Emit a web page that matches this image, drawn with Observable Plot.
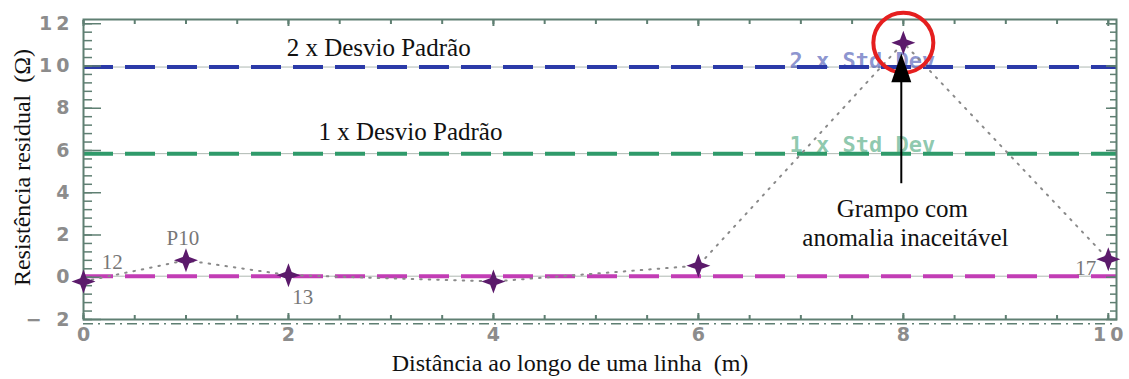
<!DOCTYPE html>
<html><head><meta charset="utf-8">
<script src="https://cdn.jsdelivr.net/npm/d3@7"></script>
<script src="https://cdn.jsdelivr.net/npm/@observablehq/plot@0.6"></script>
<style>
body{margin:0;background:#fff}
#chart svg [aria-label="y-axis tick label"] text,
#chart svg [aria-label="x-axis tick label"] text{letter-spacing:4px}
</style>
</head><body><div id="chart"></div>
<script>
// ---- data ----
const distance = [0, 1, 2, 4, 6, 8, 10];
const residual = [-0.2, 0.8, 0.1, -0.2, 0.55, 11.1, 0.85];
const pointLabelText = ["12", "P10", "13", "17"];
const pointLabelX = [0.28, 0.97, 2.14, 9.78];
const pointLabelY = [0.70, 1.83, -0.96, 0.41];
const levelNames = ["2 x Std Dev", "1 x Std Dev", "Média"];
const levelValues = [9.95, 5.85, 0.05];
const levelColors = ["#2b3aa8", "#2f9a6a", "#c23db5"];
const levelLabelX = [7.60, 7.60];
const levelLabelY = [10.26, 6.28];
const ptLabels = ["2 x Desvio Padrão", "1 x Desvio Padrão"];
const ptLabelX = [2.88, 3.19];
const ptLabelY = [10.87, 6.89];
const noteLines = ["Grampo com", "anomalia inaceitável"];
const noteX = [7.99, 8.02];
const noteY = [3.25, 1.88];
const arrowX = 7.98, arrowTail = 4.45, arrowHead = 10.6;
const baseLine = -2.2;
const xTicks = [0, 2, 4, 6, 8, 10];
const yTicks = [-2, 0, 2, 4, 6, 8, 10, 12];
const xMinor = d3.range(0, 10.01, 0.5);
const yMinor = d3.range(-2, 12.01, 0.4);

const points = distance.map((d, i) => ({x: d, y: residual[i]}));
const anomaly = points.filter(p => p.y === d3.max(residual));
const levels = levelValues.map((v, i) => ({y: v, color: levelColors[i]}));

const star4 = {draw(ctx, size) {
  const R = Math.sqrt(size / Math.PI), k = R * 0.27;
  ctx.moveTo(0, -R); ctx.lineTo(k, -k); ctx.lineTo(R, 0); ctx.lineTo(k, k);
  ctx.lineTo(0, R); ctx.lineTo(-k, k); ctx.lineTo(-R, 0); ctx.lineTo(-k, -k); ctx.closePath();
}};
const headTri = {draw(ctx) {
  ctx.moveTo(0, 0); ctx.lineTo(10, 29); ctx.lineTo(-10, 29); ctx.closePath();
}};

const frameColor = "#5f7f72";
const tickFont = "DejaVu Sans";

const chart = Plot.plot({
  width: 1129, height: 379,
  marginLeft: 83, marginRight: 13, marginTop: 19, marginBottom: 60,
  x: {domain: [0, 10.08]},
  y: {domain: [-2, 12.2]},
  style: {background: "#fff", overflow: "visible"},
  marks: [
    Plot.ruleY(levels, {y: "y", stroke: "#8a9a90", strokeWidth: 1, strokeOpacity: 0.7}),
    Plot.ruleY(levels, {y: "y", stroke: "color", strokeWidth: 4, strokeDasharray: "30,12"}),
    Plot.ruleY([baseLine], {stroke: frameColor, strokeWidth: 1.5, strokeDasharray: "10,5,2,5"}),
    Plot.text(levelLabelX, {x: d => d, y: (d, i) => levelLabelY[i], text: (d, i) => levelNames[i],
      fill: (d, i) => levelColors[i], fillOpacity: 0.55, fontSize: 22, fontFamily: "DejaVu Sans Mono",
      fontWeight: "bold", textAnchor: "middle", style: "letter-spacing:2px"}),
    Plot.text(ptLabelX, {x: d => d, y: (d, i) => ptLabelY[i], text: (d, i) => ptLabels[i],
      fill: "#111", fontSize: 25, fontFamily: "Liberation Serif"}),
    Plot.frame({stroke: frameColor, strokeWidth: 2}),
    Plot.axisY(yTicks, {anchor: "left", tickSize: 18, dx: 18, fill: "none", stroke: frameColor, strokeWidth: 1.5, label: null}),
    Plot.axisY(yMinor, {anchor: "left", tickSize: 9, dx: 9, fill: "none", stroke: frameColor, strokeWidth: 1.5, label: null}),
    Plot.axisY(yTicks, {anchor: "right", tickSize: 11, dx: -11, fill: "none", stroke: frameColor, strokeWidth: 1.5, label: null}),
    Plot.axisY(yMinor, {anchor: "right", tickSize: 7, dx: -7, fill: "none", stroke: frameColor, strokeWidth: 1.5, label: null}),
    Plot.axisX(xTicks, {anchor: "bottom", tickSize: 6, dy: -6, fill: "none", stroke: frameColor, strokeWidth: 2, label: null}),
    Plot.axisX(xMinor, {anchor: "bottom", tickSize: 4, dy: -4, fill: "none", stroke: frameColor, strokeWidth: 2, label: null}),
    Plot.axisX(xTicks, {anchor: "top", tickSize: 6, dy: 6, fill: "none", stroke: frameColor, strokeWidth: 2, label: null}),
    Plot.axisX(xMinor, {anchor: "top", tickSize: 4, dy: 4, fill: "none", stroke: frameColor, strokeWidth: 2, label: null}),
    Plot.axisY(yTicks, {anchor: "left", tickSize: 0, tickPadding: 10, stroke: "none", fill: "#8c8c8c",
      fontSize: 19, fontFamily: tickFont, fontWeight: "bold", label: null,
      tickFormat: d => d < 0 ? "\u2212 " + (-d) : String(d)}),
    Plot.axisX(xTicks, {anchor: "bottom", tickSize: 0, tickPadding: 8, dx: 2, stroke: "none", fill: "#8c8c8c",
      fontSize: 19, fontFamily: tickFont, fontWeight: "bold", label: null}),
    Plot.line(points, {x: "x", y: "y", stroke: "#8a8a8a", strokeWidth: 2, strokeDasharray: "1.5,7", strokeLinecap: "round"}),
    Plot.dot(points, {x: "x", y: "y", symbol: star4, r: 12, fill: "#5b1a6b", stroke: "none"}),
    Plot.text(pointLabelX, {x: d => d, y: (d, i) => pointLabelY[i], text: (d, i) => pointLabelText[i],
      fill: "#777", fontSize: 21, fontFamily: "Liberation Serif", style: "letter-spacing:2px"}),
    Plot.dot(anomaly, {x: "x", y: "y", r: 30, stroke: "#e51f1f", strokeWidth: 4, fill: "none"}),
    Plot.link([0], {x1: arrowX, x2: arrowX, y1: arrowTail, y2: arrowHead - 0.8, stroke: "#000", strokeWidth: 2}),
    Plot.dot([0], {x: arrowX, y: arrowHead, symbol: headTri, fill: "#000", stroke: "none"}),
    Plot.text(noteX, {x: d => d, y: (d, i) => noteY[i], text: (d, i) => noteLines[i],
      fill: "#111", fontSize: 25, fontFamily: "Liberation Serif"}),
    Plot.text(["Resistência residual  (Ω)"], {frameAnchor: "left", textAnchor: "middle", rotate: -90, dx: -61, dy: -2,
      fill: "#111", fontSize: 24, fontFamily: "Liberation Serif"}),
    Plot.text(["Distância ao longo de uma linha  (m)"], {frameAnchor: "bottom", textAnchor: "middle", dx: -30, dy: 51,
      fill: "#111", fontSize: 24, fontFamily: "Liberation Serif"})
  ]
});
document.getElementById("chart").appendChild(chart);
</script>
</body></html>
